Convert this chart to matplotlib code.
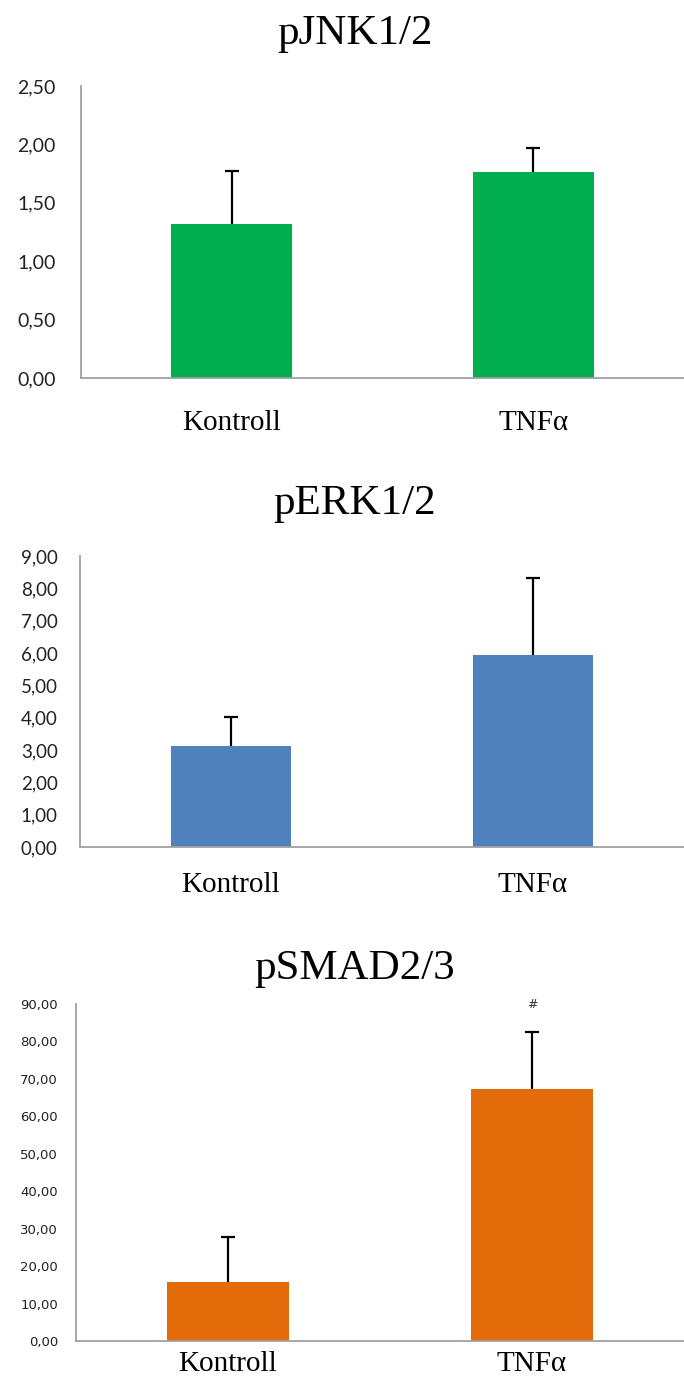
import matplotlib
matplotlib.use("Agg")
import matplotlib.pyplot as plt

groups = ["Kontroll", "TNF\u03b1"]

jnk_titel = "pJNK1/2"
jnk_mean = [1.32, 1.76]
jnk_err = [0.45, 0.21]
jnk_ticks = [0, 0.5, 1.0, 1.5, 2.0, 2.5]

erk_titel = "pERK1/2"
erk_mean = [3.12, 5.94]
erk_err = [0.90, 2.38]
erk_ticks = [0, 1, 2, 3, 4, 5, 6, 7, 8, 9]

smad_titel = "pSMAD2/3"
smad_mean = [15.8, 67.3]
smad_err = [12.0, 15.2]
smad_ticks = [0, 10, 20, 30, 40, 50, 60, 70, 80, 90]
smad_mark = ["", "#"]

W, H = 684, 1389
fig = plt.figure(figsize=(W / 100, H / 100), dpi=100)


def panel(rect, titel, mean, err, ticks, color, tickfont, ticksize, tickpad, xpad, title_y):
    ax = fig.add_axes(rect)
    x = list(range(len(groups)))
    ax.bar(x, mean, width=0.4, color=color, zorder=2)
    eb = ax.errorbar(x, mean, yerr=[[0] * len(err), err], fmt="none", ecolor="black",
                     elinewidth=1.6, capsize=5, capthick=1.6, zorder=3)
    # only the upper cap, like in Excel
    eb[1][0].set_visible(False)
    ax.set_xlim(-0.5, 1.5)
    ax.set_ylim(ticks[0], ticks[-1])
    ax.set_yticks(ticks)
    ax.set_yticklabels([("%.2f" % t).replace(".", ",") for t in ticks],
                       fontfamily=tickfont, fontsize=ticksize, color="#222222")
    ax.set_xticks(x)
    ax.set_xticklabels(groups, fontfamily="Liberation Serif", fontsize=21)
    ax.tick_params(axis="y", length=0, pad=tickpad)
    ax.tick_params(axis="x", length=0, pad=xpad)
    for s in ["top", "right"]:
        ax.spines[s].set_visible(False)
    for s in ["left", "bottom"]:
        ax.spines[s].set_color("#A0A0A0")
        ax.spines[s].set_linewidth(1.3)
    fig.text(355 / W, 1 - title_y / H, titel, ha="center", va="baseline",
             fontfamily="Liberation Serif", fontsize=31)
    return ax


panel([81 / W, 1011 / H, 603 / W, 292 / H], jnk_titel, jnk_mean, jnk_err, jnk_ticks,
      "#00AD4F", "Lato", 14, 18, 23, 44)
panel([80 / W, 542 / H, 604 / W, 291 / H], erk_titel, erk_mean, erk_err, erk_ticks,
      "#4F81BD", "Lato", 13.5, 16, 18, 514)
ax3 = panel([76 / W, 48 / H, 608 / W, 337 / H], smad_titel, smad_mean, smad_err, smad_ticks,
            "#E36C0A", "DejaVu Sans", 9.5, 13, 7, 979)
for i, m in enumerate(smad_mark):
    if m:
        ax3.text(i, 90, m, ha="center", va="center", fontsize=9, color="#333333")

fig.savefig("out.png", dpi=100)
